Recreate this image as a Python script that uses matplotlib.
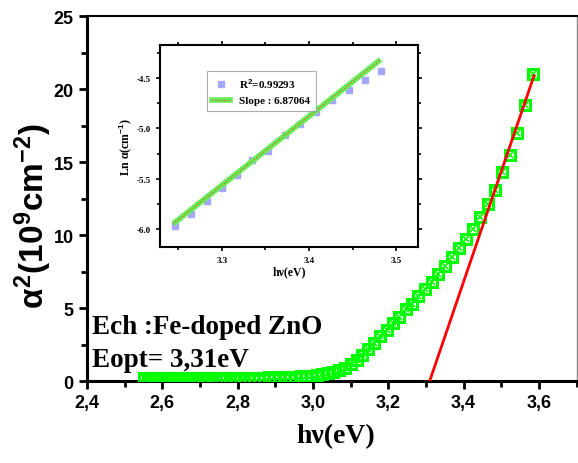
import matplotlib.pyplot as plt
from matplotlib.ticker import MultipleLocator, FuncFormatter
from matplotlib.lines import Line2D

plt.rcParams['mathtext.fontset'] = 'custom'
plt.rcParams['mathtext.rm'] = 'Liberation Sans:bold'
plt.rcParams['mathtext.it'] = 'Liberation Sans:bold'
plt.rcParams['mathtext.bf'] = 'Liberation Sans:bold'

# main Tauc plot data (photon energy, alpha^2 in 1e9 cm^-2)
hv = [3.584, 3.563, 3.543, 3.523, 3.503, 3.483, 3.464, 3.444, 3.425, 3.407,
      3.388, 3.370, 3.351, 3.333, 3.316, 3.298, 3.280, 3.263, 3.246, 3.229,
      3.212, 3.196, 3.179, 3.163, 3.147, 3.131, 3.116, 3.100, 3.085, 3.069,
      3.054, 3.039, 3.024, 3.010, 2.995, 2.981, 2.967, 2.952, 2.938, 2.925,
      2.911, 2.897, 2.884, 2.870, 2.857, 2.844, 2.831, 2.818, 2.805, 2.793,
      2.780, 2.768, 2.756, 2.743, 2.731, 2.719, 2.707, 2.696, 2.684, 2.672,
      2.661, 2.650, 2.638, 2.627, 2.616, 2.605, 2.594, 2.583, 2.573, 2.562,
      2.551]
alpha2 = [21.0, 18.9, 17.0, 15.5, 14.3, 13.1, 12.1, 11.2, 10.4, 9.7,
          9.1, 8.5, 7.9, 7.3, 6.8, 6.3, 5.8, 5.3, 4.9, 4.4,
          3.95, 3.5, 3.05, 2.62, 2.2, 1.8, 1.45, 1.15, 0.92, 0.75,
          0.62, 0.52, 0.45, 0.40, 0.36, 0.33, 0.31, 0.29, 0.28, 0.27,
          0.26, 0.25, 0.25, 0.24, 0.24, 0.23, 0.23, 0.23, 0.22, 0.22,
          0.22, 0.22, 0.21, 0.21, 0.21, 0.21, 0.21, 0.20, 0.20, 0.20,
          0.20, 0.20, 0.20, 0.20, 0.20, 0.19, 0.19, 0.19, 0.19, 0.19,
          0.19]

# linear extrapolation -> Eopt
eopt = 3.31
fit_x = [3.31, 3.587]
fit_slope = 75.5

# inset: ln(alpha) vs hv
ln_x = [3.246, 3.265, 3.283, 3.300, 3.317, 3.335, 3.353, 3.372, 3.390,
        3.408, 3.426, 3.446, 3.464, 3.482]
ln_y = [-5.973, -5.851, -5.720, -5.594, -5.462, -5.317, -5.225, -5.069,
        -4.954, -4.832, -4.720, -4.614, -4.515, -4.433]
lin_x = [3.244, 3.482]
lin_y0 = -5.95
lin_slope = 6.87064

comma = FuncFormatter(lambda v, p: ('%.1f' % v).replace('.', ','))

fig = plt.figure(figsize=(5.78, 4.64), dpi=100)
ax = fig.add_axes([0.1505, 0.1767, 0.847, 0.7866])

ax.plot(hv, alpha2, ls='none', marker='s', ms=7.5, mfc='none', mec='#00ff00', mew=2.2, zorder=3)
ax.plot(hv, alpha2, ls='none', marker='x', ms=4, mec='#00ff00', mew=1.2, zorder=3)
ax.plot(fit_x, [fit_slope * (x - eopt) for x in fit_x], color='#ff0000', lw=2, zorder=4)

ax.set_xlim(2.4, 3.7)
ax.set_ylim(0, 25)
ax.xaxis.set_major_locator(MultipleLocator(0.2))
ax.xaxis.set_minor_locator(MultipleLocator(0.1))
ax.yaxis.set_major_locator(MultipleLocator(5))
ax.yaxis.set_minor_locator(MultipleLocator(2.5))
ax.xaxis.set_major_formatter(comma)
ax.tick_params(which='major', direction='out', length=6, width=2, labelsize=13)
ax.tick_params(which='minor', direction='out', length=4, width=2)
for lab in ax.get_xticklabels() + ax.get_yticklabels():
    lab.set_fontweight('bold')
    lab.set_family('Liberation Sans')
ax.spines['left'].set_linewidth(2.2)
ax.spines['bottom'].set_linewidth(2.2)
ax.spines['top'].set_linewidth(1.5)
ax.spines['right'].set_linewidth(1.0)
ax.spines['right'].set_color('#888888')

fig.text(0.057, 0.535, r'$\alpha^{2}$(10$^{9}$cm$^{-2}$)', rotation=90, ha='center', va='center',
         fontsize=24, fontweight='bold', family='Liberation Sans')
fig.text(0.58, 0.06, 'hν(eV)', ha='center', va='center', fontsize=20, fontweight='bold',
         family='Liberation Serif')

ax.text(0.01, 0.148, 'Ech :Fe-doped ZnO', transform=ax.transAxes, fontsize=19.5,
        fontweight='bold', family='Liberation Serif', va='center')
ax.text(0.01, 0.06, 'Eopt= 3,31eV', transform=ax.transAxes, fontsize=19.5,
        fontweight='bold', family='Liberation Serif', va='center')

# inset
ins = fig.add_axes([0.2768, 0.4655, 0.4464, 0.4353])
ins.plot(ln_x, ln_y, ls='none', marker='s', ms=4, color='#a6a6ff', zorder=2)
ly = [lin_y0 + lin_slope * (x - lin_x[0]) for x in lin_x]
ins.plot(lin_x, ly, color='#66ee55', lw=4, solid_capstyle='butt', zorder=3)
ins.plot(lin_x, ly, color='#ff3333', lw=0.8, ls=':', zorder=4)
ins.set_xlim(3.229, 3.525)
ins.set_ylim(-6.18, -4.17)
ins.xaxis.set_major_locator(MultipleLocator(0.1))
ins.xaxis.set_minor_locator(MultipleLocator(0.05))
ins.yaxis.set_major_locator(MultipleLocator(0.5))
ins.yaxis.set_minor_locator(MultipleLocator(0.25))
ins.xaxis.set_major_formatter(FuncFormatter(lambda v, p: '%.1f' % v))
ins.yaxis.set_major_formatter(FuncFormatter(lambda v, p: '%.1f' % v))
ins.tick_params(which='both', direction='out', labelsize=6.5, width=1.2, top=True, right=True)
ins.tick_params(which='major', length=3)
ins.tick_params(which='minor', length=2)
for lab in ins.get_xticklabels() + ins.get_yticklabels():
    lab.set_fontweight('bold')
    lab.set_family('Liberation Serif')
for s in ins.spines.values():
    s.set_linewidth(1.5)
ins.set_xlabel('hν(eV)', fontsize=8.5, fontweight='bold', family='Liberation Serif', labelpad=1)
ins.set_ylabel('Ln α(cm$^{-1}$)', fontsize=8.5, fontweight='bold', family='Liberation Serif', labelpad=2)

h1 = Line2D([], [], ls='none', marker='s', ms=4, color='#a6a6ff')
h2a = Line2D([], [], color='#66ee55', lw=4)
h2b = Line2D([], [], color='#ff3333', lw=0.8, ls=':')
leg = ins.legend([h1, (h2a, h2b)], ['R$^{2}$=0.99293', 'Slope : 6.87064'],
                 loc='upper left', bbox_to_anchor=(0.16, 0.9), fancybox=False,
                 prop={'family': 'Liberation Serif', 'weight': 'bold', 'size': 8},
                 handlelength=1.6, borderpad=0.5, labelspacing=0.5)
leg.get_frame().set_edgecolor('#999999')
leg.get_frame().set_linewidth(0.8)

fig.savefig('out.png', dpi=100)
